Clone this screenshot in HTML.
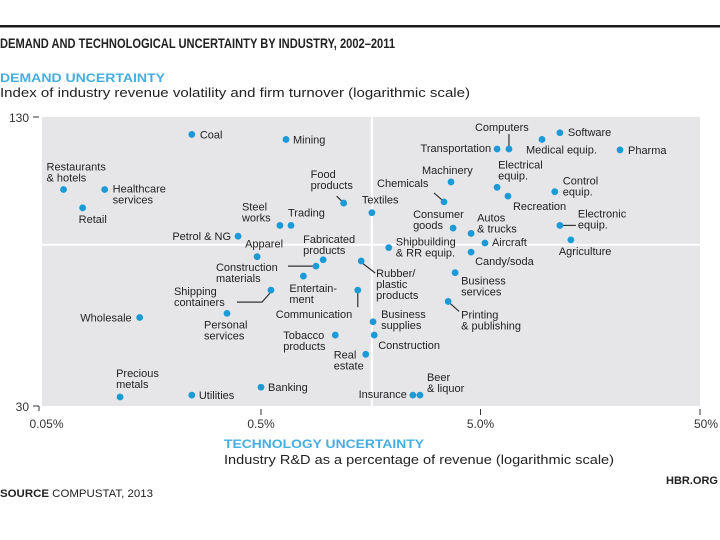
<!DOCTYPE html>
<html><head><meta charset="utf-8"><style>
html,body{margin:0;padding:0;background:#fff;}
svg{display:block;font-family:"Liberation Sans Narrow","Liberation Sans",sans-serif;}
</style></head><body>
<svg id="chart" width="720" height="540" viewBox="0 0 720 540">
<rect x="0" y="25" width="720" height="2.5" fill="#1a1a1a"/>
<text x="0" y="48" font-size="14" font-weight="bold" fill="#222" textLength="395" lengthAdjust="spacingAndGlyphs">DEMAND AND TECHNOLOGICAL UNCERTAINTY BY INDUSTRY, 2002–2011</text>
<text x="0" y="82" font-size="12" font-weight="bold" fill="#45aee0" textLength="165" lengthAdjust="spacingAndGlyphs">DEMAND UNCERTAINTY</text>
<text x="0" y="97" font-size="13" fill="#222" textLength="470" lengthAdjust="spacingAndGlyphs">Index of industry revenue volatility and firm turnover (logarithmic scale)</text>
<rect x="42" y="117" width="658" height="289" fill="#e6e6e8"/>
<g id="grid"></g>
<g id="axes"></g>
<g id="leaders" stroke="#333" stroke-width="1.2" fill="none"></g>
<g id="marks"></g>
<g id="labels"></g>
<text x="224" y="448" font-size="12" font-weight="bold" fill="#45aee0" textLength="200" lengthAdjust="spacingAndGlyphs">TECHNOLOGY UNCERTAINTY</text>
<text x="224" y="464" font-size="13" fill="#222" textLength="390" lengthAdjust="spacingAndGlyphs">Industry R&amp;D as a percentage of revenue (logarithmic scale)</text>
<text x="718" y="484" font-size="11" font-weight="bold" fill="#222" text-anchor="end">HBR.ORG</text>
<text x="0" y="497" font-size="11" fill="#222" textLength="153" lengthAdjust="spacingAndGlyphs"><tspan font-weight="bold">SOURCE</tspan> COMPUSTAT, 2013</text>
</svg>
<script>
const names = ["Coal","Mining","Restaurants|& hotels","Healthcare|services","Retail","Steel|works","Trading","Petrol & NG","Food|products","Textiles","Apparel","Fabricated|products","Construction|materials","Entertain-|ment","Rubber/|plastic|products","Shipping|containers","Communication","Wholesale","Personal|services","Tobacco|products","Business|supplies","Construction","Real|estate","Precious|metals","Utilities","Banking","Insurance","Beer|& liquor","Computers","Transportation","Medical equip.","Software","Pharma","Machinery","Chemicals","Electrical|equip.","Recreation","Control|equip.","Consumer|goods","Autos|& trucks","Aircraft","Electronic|equip.","Agriculture","Shipbuilding|& RR equip.","Candy/soda","Business|services","Printing|& publishing"];
const rdPercent = [0.242,0.65,0.063,0.097,0.077,0.61,0.685,0.393,1.19,1.60,0.48,0.96,0.89,0.78,1.43,0.555,1.38,0.14,0.35,1.09,1.62,1.64,1.50,0.114,0.242,0.5,2.46,2.65,6.74,5.95,9.53,11.5,21.6,3.67,3.41,5.95,6.67,10.9,3.75,4.53,5.24,11.5,12.9,1.91,4.53,3.83,3.56];
const demandIndex = [119,116,90,90,82,75,75,71,84,80,64,63,61,58,62.6,54,54,47,48,43,46,43,39,31.4,31.7,33,31.7,31.7,110.5,110.5,116,120,110,93.5,84.5,91,87,89,74,72,68.6,75,69.7,67,65.5,59,51];
const xTicks = [0.05,0.5,5,50];
const xTickLabels = ["0.05%","0.5%","5.0%","50%"];
const yTicks = [30,130];
const yTickLabels = ["30","130"];
const xDivider = 1.6;
const yDivider = 68;
// label layout: [dx, dy, anchor] (presentation only)
const labelLayout = [[8,4,"start"],[7,4,"start"],[-17,-19,"start"],[8,3,"start"],[-4,15,"start"],[-38,-15,"start"],[-3,-9,"start"],[-7,4,"end"],[-33,-25,"start"],[-10,-9,"start"],[-12,-9,"start"],[-20,-17,"start"],[-100,5,"start"],[-14,16,"start"],[15,16,"start"],[-97,5,"start"],[-82,28,"start"],[-8,4,"end"],[-23,15,"start"],[-52,4,"start"],[8,-4,"start"],[4,14,"start"],[-32,4,"start"],[-4,-20,"start"],[7,4,"start"],[7,4,"start"],[-6,3,"end"],[7,-14,"start"],[-34,-18,"start"],[-6,3,"end"],[-16,14,"start"],[8,3,"start"],[8,4,"start"],[-29,-8,"start"],[-67,-15,"start"],[1,-19,"start"],[5,14,"start"],[8,-7,"start"],[-40,-10,"start"],[6,-12,"start"],[7,3,"start"],[18,-8,"start"],[-12,15,"start"],[7,-2,"start"],[4,13,"start"],[6,12,"start"],[13,17,"start"]];
// leader lines: index -> relative polyline (presentation only)
const leaderLayout = {8:[[-7,-7],[0,0]],12:[[-28,0],[-3,0]],14:[[1,2],[14,12]],15:[[-34,12],[-9,12],[-1,3]],16:[[0,3],[0,17]],28:[[0,-15],[0,-3]],34:[[-10,-9],[-2,-2]],41:[[3,0],[16,0]],46:[[2,2],[11,10]]};

const X0=41.5, DEC=219.5, YT=117, YB=406;
const xScale = v => X0 + (Math.log10(v) - Math.log10(0.05)) * DEC;
const yScale = v => YB - (Math.log(v/30)/Math.log(130/30)) * (YB-YT);
const NS="http://www.w3.org/2000/svg";
function mk(tag, attrs, parent){const e=document.createElementNS(NS,tag);for(const k in attrs)e.setAttribute(k,attrs[k]);parent.appendChild(e);return e;}

const grid=document.getElementById('grid');
let vl=mk('line',{x1:xScale(xDivider),x2:xScale(xDivider),y1:YT,y2:YB,stroke:'#fff','stroke-width':2},grid);


let hl=mk('line',{x1:42,x2:700,y1:yScale(yDivider),y2:yScale(yDivider),stroke:'#fff','stroke-width':2},grid);



const axes=document.getElementById('axes');
xTicks.forEach((t,i)=>{
  const x=xScale(t);
  if(i>0){const tk=mk('line',{x1:x,x2:x,y1:409,y2:415,stroke:'#333','stroke-width':1},axes);
  
  }
  const anchor = i===xTicks.length-1 ? 'end':'middle';
  const tx = i===xTicks.length-1 ? 718 : (i===0? x+5 : x);
  const lb=mk('text',{x:tx,y:428,'font-size':12,fill:'#333','text-anchor':anchor},axes);
  lb.textContent=xTickLabels[i];
  
  
});
yTicks.forEach((t,i)=>{
  const y=yScale(t);
  const lb=mk('text',{x:29,y:y+5,'font-size':12,fill:'#333','text-anchor':'end'},axes);
  lb.textContent=yTickLabels[i];
  
  
  const tk=mk('line',{x1:33,x2:39,y1:y,y2:y,stroke:'#333','stroke-width':1},axes);
  
  
  if(i===0){const d=mk('line',{x1:39,x2:39,y1:y,y2:y+5,stroke:'#333','stroke-width':1},axes);
  
  }
});

const marks=document.getElementById('marks'), labels=document.getElementById('labels'), leaders=document.getElementById('leaders');
names.forEach((n,i)=>{
  const cx=xScale(rdPercent[i]), cy=yScale(demandIndex[i]);
  const c=mk('circle',{cx:cx,cy:cy,r:3.4,fill:'#1c9ad6'},marks);
  
  
  const L=labelLayout[i];
  const t=mk('text',{x:cx+L[0],y:cy+L[1],'font-size':11,fill:'#222','text-anchor':L[2]},labels);
  
  
  n.split('|').forEach((line,j)=>{const s=mk('tspan',{x:cx+L[0],dy:j===0?0:11},t);s.textContent=line;});
  if(leaderLayout[i]){
    const pts=leaderLayout[i].map(p=>(cx+p[0])+','+(cy+p[1])).join(' ');
    const pl=mk('polyline',{points:pts},leaders);
    
    
  }
});
</script>
</body></html>
